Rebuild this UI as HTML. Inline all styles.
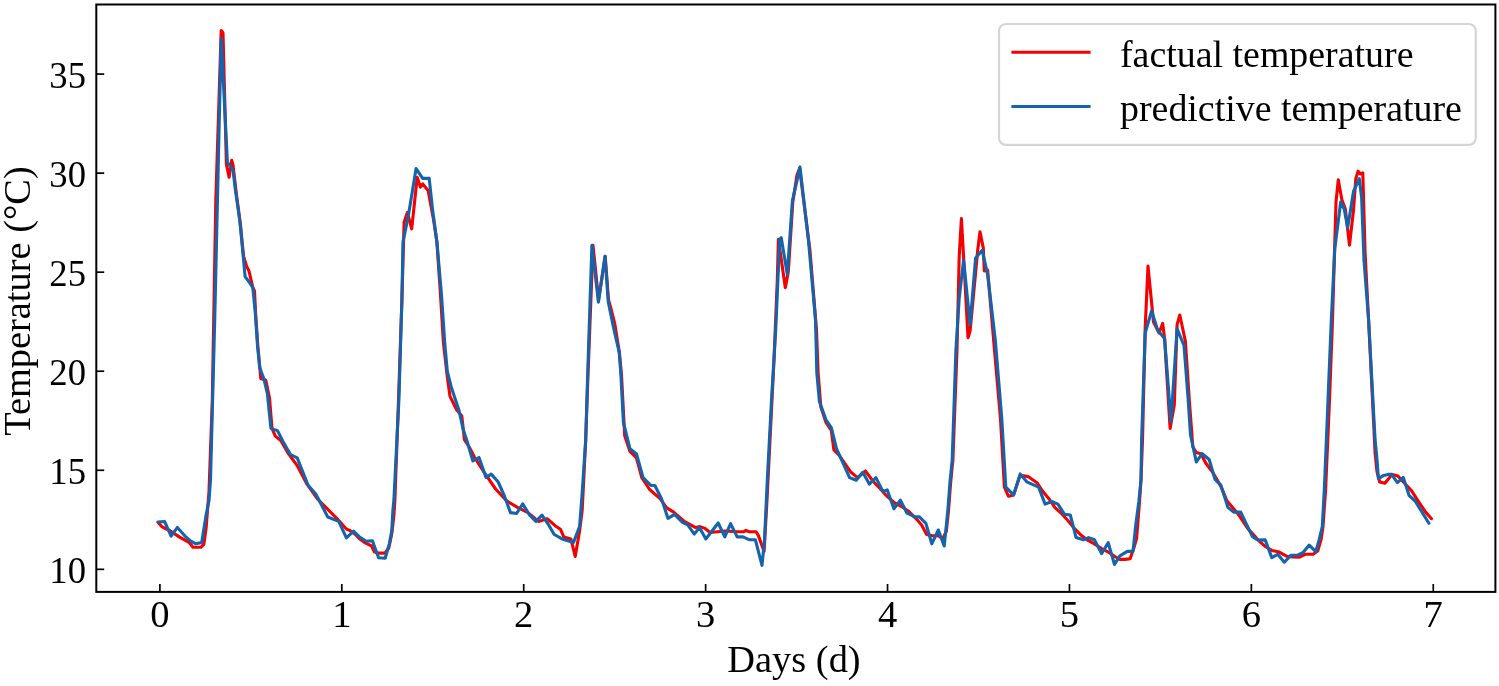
<!DOCTYPE html>
<html><head><meta charset="utf-8"><title>Temperature chart</title>
<style>
html,body{margin:0;padding:0;background:#fff;}
svg{display:block;}
text{font-family:"Liberation Serif","Times New Roman",serif;font-size:37.9px;fill:#000;}
.tk{font-size:38.6px;}
.al{font-size:38.4px;}
</style></head>
<body>
<svg width="1499" height="686" viewBox="0 0 1499 686">
<polyline points="158.0,522.3 161.7,526.6 170.4,531.0 179.2,536.9 189.4,542.7 193.0,547.3 201.0,547.3 203.9,544.1 206.1,528.1 207.6,509.2 209.0,491.7 212.3,400.0 215.8,200.0 219.3,90.0 221.2,30.5 223.0,33.0 226.4,164.1 229.1,177.2 231.7,160.2 233.0,165.0 236.5,195.0 240.5,225.0 243.5,256.0 246.5,266.0 249.0,271.0 252.8,287.6 254.5,291.0 255.6,313.0 257.8,345.6 259.8,367.5 260.8,378.5 265.8,380.2 269.5,398.0 272.0,428.4 275.3,436.1 280.8,440.5 288.4,453.6 297.2,465.6 307.0,484.2 318.0,499.5 325.6,507.2 336.5,518.1 346.4,529.0 350.0,530.6 355.1,534.2 360.2,539.3 365.3,542.9 371.4,545.9 374.5,552.0 378.6,553.1 384.7,553.1 388.8,548.0 391.8,533.7 393.9,515.3 394.9,500.0 398.5,400.0 401.9,300.0 404.1,222.2 407.4,212.4 411.7,228.8 417.2,177.4 420.5,187.2 422.7,183.9 428.1,190.5 433.6,220.0 436.9,241.9 440.5,295.0 443.4,342.5 447.3,376.7 450.0,396.4 456.5,409.5 461.8,416.0 464.4,439.7 469.6,447.6 474.6,457.5 484.2,472.4 495.6,489.0 507.0,501.2 517.5,507.4 528.0,512.6 538.5,521.4 547.2,518.7 555.1,525.7 560.4,529.2 563.9,537.1 570.9,538.9 575.2,556.4 579.6,531.0 582.2,510.0 585.7,440.0 587.8,380.0 593.0,245.3 598.6,300.0 605.2,256.2 608.5,300.0 610.4,306.5 614.8,324.0 619.4,352.4 621.5,375.0 624.7,435.7 630.0,451.4 636.5,458.0 641.8,477.7 649.6,489.5 660.1,498.7 666.7,507.9 673.3,511.8 683.8,521.0 695.6,527.6 700.0,526.6 704.4,528.1 710.2,532.5 717.5,531.7 724.8,531.0 737.9,531.7 743.7,531.7 745.9,530.3 748.8,531.7 756.1,531.7 758.3,535.4 764.1,551.4 767.0,500.0 770.0,440.0 774.0,360.0 777.3,280.0 778.4,239.2 785.3,287.6 788.3,272.0 792.8,202.0 797.0,175.0 799.6,168.4 809.9,249.7 816.5,330.0 818.1,372.5 820.8,406.7 826.0,422.4 831.3,430.3 833.9,450.0 839.1,455.2 851.0,472.3 857.5,477.6 865.4,471.0 873.3,481.5 878.5,486.8 885.8,495.0 894.6,503.0 901.9,506.7 909.2,511.8 916.5,519.1 921.6,524.9 926.7,534.4 932.5,535.8 938.3,535.8 942.7,538.7 946.3,531.4 948.5,511.0 950.7,481.9 952.9,460.0 957.0,350.0 959.2,256.8 961.4,218.6 964.7,276.5 968.0,337.7 970.1,331.1 977.8,249.2 980.0,231.7 983.3,248.1 984.3,271.0 987.6,270.0 994.5,350.0 1000.5,418.8 1004.4,487.1 1008.4,496.2 1013.6,494.9 1020.2,475.2 1028.1,476.6 1037.3,483.1 1042.5,491.0 1049.1,498.9 1055.0,507.7 1060.8,512.8 1068.1,520.8 1074.0,528.1 1080.5,534.7 1087.1,539.8 1093.6,543.4 1101.6,548.5 1109.7,552.9 1114.8,556.5 1119.9,559.4 1125.0,559.4 1130.1,558.7 1133.7,548.5 1136.6,538.3 1139.5,501.9 1141.0,480.0 1142.5,440.0 1145.2,327.5 1148.0,266.1 1153.5,322.0 1159.1,333.0 1162.7,323.4 1164.6,338.6 1170.1,428.5 1174.3,405.0 1177.1,324.7 1179.8,315.0 1185.4,341.3 1189.3,400.0 1192.8,446.7 1196.3,452.5 1201.0,453.7 1205.7,463.0 1212.7,472.4 1220.9,486.4 1226.7,500.4 1238.4,514.4 1247.7,528.4 1259.4,541.3 1265.2,546.4 1271.8,550.4 1278.4,551.7 1286.9,556.3 1292.8,556.9 1299.4,557.2 1305.3,554.3 1313.1,554.3 1317.7,551.0 1321.0,539.9 1323.0,526.7 1325.6,490.0 1329.5,400.0 1332.5,320.0 1336.0,202.0 1338.3,179.8 1341.8,199.6 1345.3,209.0 1349.5,245.1 1353.5,210.1 1355.8,178.7 1358.1,171.2 1360.5,174.0 1362.8,172.8 1365.1,253.3 1368.6,320.0 1375.1,453.1 1377.0,471.5 1379.7,482.0 1384.9,483.3 1388.2,479.3 1392.1,474.4 1398.0,476.1 1404.6,483.3 1411.8,491.1 1417.7,500.3 1425.6,512.1 1431.5,518.7" fill="none" stroke="#f40000" stroke-width="3.1" stroke-linejoin="round" stroke-linecap="round"/>
<polyline points="158.0,522.0 164.6,521.5 171.1,536.1 177.4,527.4 185.0,536.1 190.8,541.2 195.9,543.8 201.7,542.4 206.1,515.0 209.0,500.4 210.5,480.0 214.7,321.0 218.6,150.0 221.2,38.3 227.4,162.0 233.1,170.7 235.3,189.3 239.7,219.9 242.9,252.6 245.1,276.6 248.4,281.0 252.8,287.6 255.3,312.8 257.5,345.6 259.7,367.5 264.1,379.6 267.4,393.8 270.9,428.4 277.5,430.6 283.0,441.5 290.6,454.7 297.2,457.9 308.1,485.3 315.8,494.0 327.8,517.0 338.7,521.4 346.4,537.8 353.6,531.1 359.2,536.7 366.3,541.3 372.4,540.8 378.6,557.7 385.2,558.2 389.3,543.9 391.8,530.6 392.9,510.2 393.9,500.0 396.7,443.7 398.9,400.0 401.9,300.0 403.0,241.9 408.4,215.6 416.1,168.6 422.7,178.4 429.2,178.4 432.5,209.1 436.9,241.9 441.5,295.0 444.7,342.5 447.3,371.4 451.3,387.2 459.1,410.8 463.1,429.2 466.7,440.0 472.9,461.0 479.0,457.5 486.0,477.6 491.2,474.1 498.2,482.0 504.4,496.0 510.5,512.6 516.6,513.5 522.7,503.9 529.7,515.2 535.9,521.4 542.0,515.2 548.1,524.0 554.2,534.5 562.1,538.9 573.5,542.4 579.6,526.6 582.2,492.5 585.7,440.0 587.5,380.0 591.9,245.3 598.4,302.1 605.0,256.2 608.3,302.1 613.7,328.4 619.2,352.4 620.9,375.0 623.4,422.5 630.0,448.8 636.5,454.0 643.1,477.7 651.0,485.5 654.9,485.5 661.5,498.7 668.0,518.4 674.6,514.4 682.5,522.3 687.7,524.9 694.3,534.1 699.5,527.6 705.8,539.0 718.2,523.0 724.8,536.9 730.6,523.7 737.2,536.9 743.0,536.9 749.6,539.8 755.4,539.8 762.0,565.3 764.5,540.0 767.3,480.0 771.5,400.0 775.7,330.0 779.7,239.2 781.2,237.6 787.3,274.3 792.4,200.8 800.0,167.1 808.6,241.9 815.5,320.0 816.8,372.5 819.4,401.4 826.0,419.8 831.3,427.7 836.5,448.7 849.6,477.6 856.2,480.2 862.8,472.3 869.3,484.1 875.9,477.6 882.9,491.4 887.3,489.9 893.9,508.8 900.4,500.1 907.0,513.2 915.0,516.9 919.4,516.9 925.9,523.4 931.8,543.8 938.3,530.0 944.2,546.0 947.8,511.0 950.0,481.9 952.2,460.0 955.9,350.0 959.2,298.4 963.6,260.1 970.1,324.6 975.6,257.9 982.2,250.3 987.6,274.3 995.3,340.0 1001.8,418.8 1005.8,487.1 1013.6,494.9 1020.2,473.9 1026.8,481.8 1038.6,487.1 1045.1,504.1 1051.7,501.5 1057.9,504.1 1064.5,514.3 1070.3,515.0 1076.1,537.6 1083.4,539.8 1088.5,537.6 1094.4,539.8 1101.6,553.6 1108.2,542.7 1114.5,564.5 1119.9,555.8 1127.2,551.4 1133.0,551.4 1135.9,523.7 1138.8,501.9 1141.0,480.0 1141.6,440.0 1145.2,333.0 1151.6,310.9 1157.7,330.3 1164.6,338.6 1171.0,421.6 1177.1,328.9 1184.0,345.5 1188.2,400.0 1190.5,435.0 1196.3,461.9 1202.2,453.7 1209.2,459.5 1215.0,479.4 1220.9,485.2 1227.9,507.4 1233.7,512.1 1240.7,512.1 1252.4,536.6 1258.2,540.1 1265.2,539.9 1271.8,557.6 1277.7,554.3 1284.3,562.2 1290.8,555.4 1298.1,555.0 1303.3,552.3 1309.2,545.1 1315.8,551.7 1319.1,539.9 1322.3,526.7 1324.3,490.0 1328.0,400.0 1331.3,320.0 1334.8,248.6 1340.7,202.0 1344.2,209.0 1347.7,227.6 1353.5,191.5 1359.3,178.7 1361.6,197.3 1364.0,260.3 1368.6,320.0 1375.1,440.0 1377.0,459.7 1378.4,478.7 1383.6,475.4 1388.2,474.4 1391.5,474.4 1397.4,482.6 1403.3,477.4 1409.2,495.7 1415.1,501.0 1428.9,523.3" fill="none" stroke="#1464ad" stroke-width="3.1" stroke-linejoin="round" stroke-linecap="round"/>
<rect x="96.3" y="4.5" width="1399.1" height="587.4" fill="none" stroke="#000" stroke-width="2"/>
<line x1="159.90" y1="591.9" x2="159.90" y2="584.0" stroke="#000" stroke-width="1.7"/>
<text class="tk" x="159.90" y="627.0" text-anchor="middle">0</text>
<line x1="341.81" y1="591.9" x2="341.81" y2="584.0" stroke="#000" stroke-width="1.7"/>
<text class="tk" x="341.81" y="627.0" text-anchor="middle">1</text>
<line x1="523.72" y1="591.9" x2="523.72" y2="584.0" stroke="#000" stroke-width="1.7"/>
<text class="tk" x="523.72" y="627.0" text-anchor="middle">2</text>
<line x1="705.63" y1="591.9" x2="705.63" y2="584.0" stroke="#000" stroke-width="1.7"/>
<text class="tk" x="705.63" y="627.0" text-anchor="middle">3</text>
<line x1="887.54" y1="591.9" x2="887.54" y2="584.0" stroke="#000" stroke-width="1.7"/>
<text class="tk" x="887.54" y="627.0" text-anchor="middle">4</text>
<line x1="1069.45" y1="591.9" x2="1069.45" y2="584.0" stroke="#000" stroke-width="1.7"/>
<text class="tk" x="1069.45" y="627.0" text-anchor="middle">5</text>
<line x1="1251.36" y1="591.9" x2="1251.36" y2="584.0" stroke="#000" stroke-width="1.7"/>
<text class="tk" x="1251.36" y="627.0" text-anchor="middle">6</text>
<line x1="1433.27" y1="591.9" x2="1433.27" y2="584.0" stroke="#000" stroke-width="1.7"/>
<text class="tk" x="1433.27" y="627.0" text-anchor="middle">7</text>
<line x1="96.3" y1="569.33" x2="104.2" y2="569.33" stroke="#000" stroke-width="1.7"/>
<text class="tk" transform="translate(86,583.23) scale(0.95,1)" text-anchor="end">10</text>
<line x1="96.3" y1="470.28" x2="104.2" y2="470.28" stroke="#000" stroke-width="1.7"/>
<text class="tk" transform="translate(86,484.18) scale(0.95,1)" text-anchor="end">15</text>
<line x1="96.3" y1="371.23" x2="104.2" y2="371.23" stroke="#000" stroke-width="1.7"/>
<text class="tk" transform="translate(86,385.13) scale(0.95,1)" text-anchor="end">20</text>
<line x1="96.3" y1="272.18" x2="104.2" y2="272.18" stroke="#000" stroke-width="1.7"/>
<text class="tk" transform="translate(86,286.08) scale(0.95,1)" text-anchor="end">25</text>
<line x1="96.3" y1="173.13" x2="104.2" y2="173.13" stroke="#000" stroke-width="1.7"/>
<text class="tk" transform="translate(86,187.03) scale(0.95,1)" text-anchor="end">30</text>
<line x1="96.3" y1="74.08" x2="104.2" y2="74.08" stroke="#000" stroke-width="1.7"/>
<text class="tk" transform="translate(86,87.98) scale(0.95,1)" text-anchor="end">35</text>
<text class="al" x="794" y="672.4" text-anchor="middle">Days (d)</text>
<text transform="translate(30.4,301.1) rotate(-90)" class="al" text-anchor="middle">Temperature (°C)</text>
<rect x="999" y="24" width="476.8" height="120.9" rx="7" ry="7" fill="#fff" fill-opacity="0.8" stroke="#d5d5d5" stroke-width="2.2"/>
<line x1="1011.4" y1="52.2" x2="1090.6" y2="52.2" stroke="#f40000" stroke-width="3"/>
<line x1="1011.4" y1="106.5" x2="1090.6" y2="106.5" stroke="#1464ad" stroke-width="3"/>
<text x="1120" y="67">factual temperature</text>
<text x="1120" y="121.3">predictive temperature</text>
</svg>
</body></html>
